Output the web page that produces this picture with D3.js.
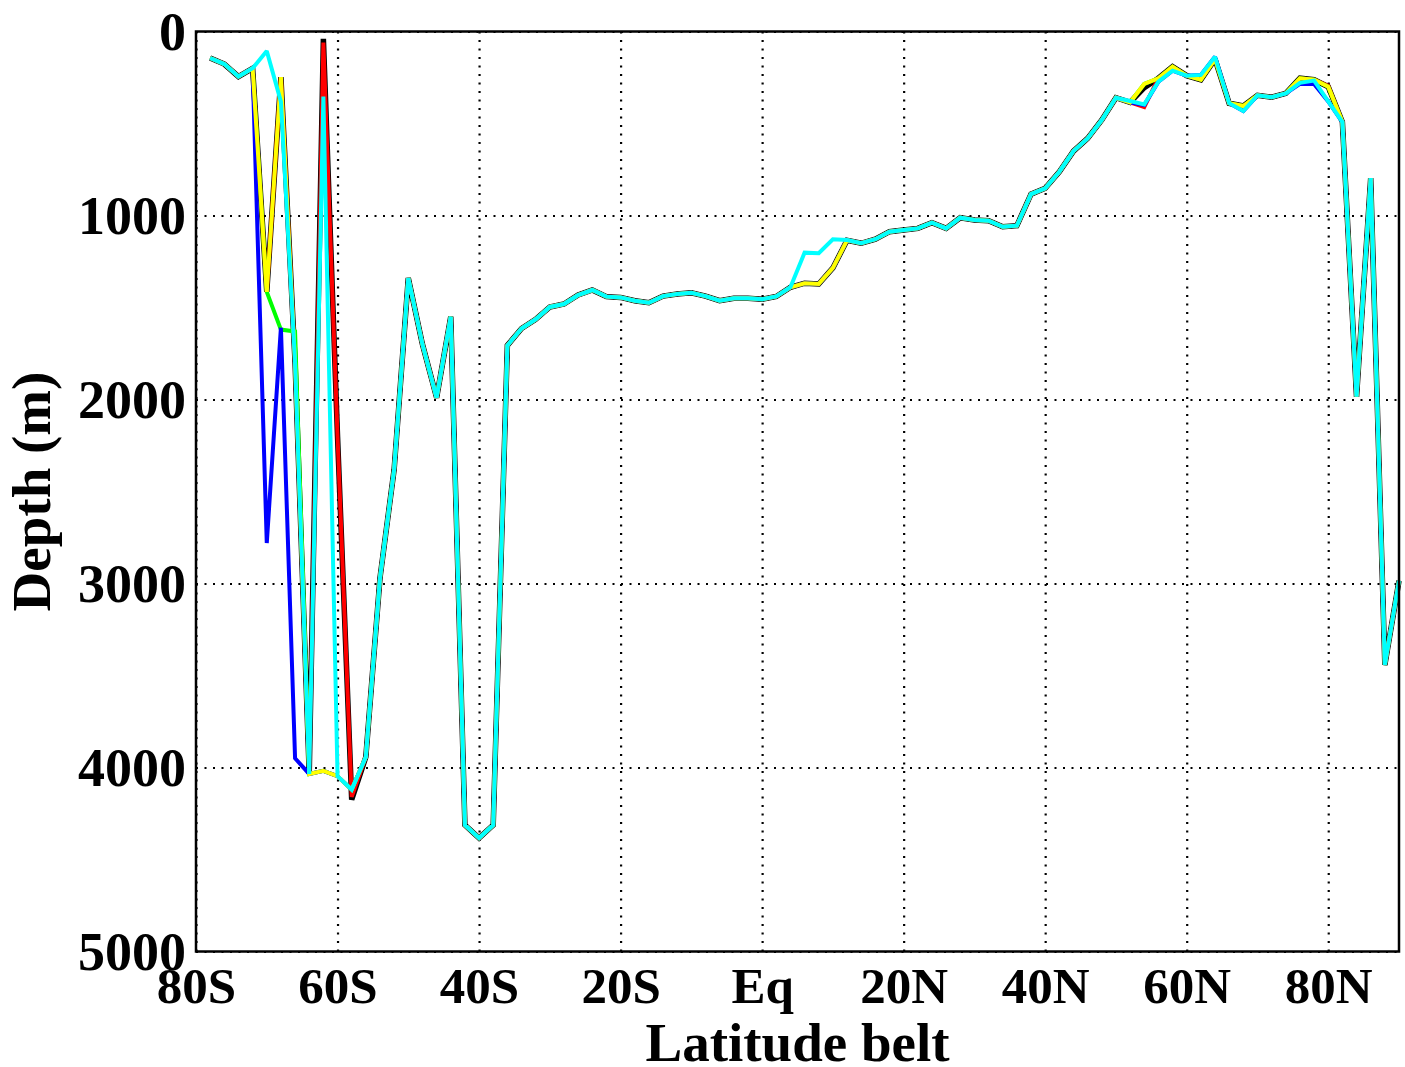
<!DOCTYPE html>
<html><head><meta charset="utf-8">
<script src="https://cdn.jsdelivr.net/npm/d3@7"></script>
<style>
body{margin:0;background:#fff;}
svg{display:block;}
text{font-family:"Liberation Serif","Times New Roman",serif;font-weight:bold;fill:#000;}
</style>
</head><body>
<svg id="chart" width="1405" height="1067"></svg>
<script>
const latitudes = [-78,-76,-74,-72,-70,-68,-66,-64,-62,-60,-58,-56,-54,-52,-50,-48,-46,-44,-42,-40,
  -38,-36,-34,-32,-30,-28,-26,-24,-22,-20,-18,-16,-14,-12,-10,-8,-6,-4,-2,0,
  2,4,6,8,10,12,14,16,18,20,22,24,26,28,30,32,34,36,38,40,
  42,44,46,48,50,52,54,56,58,60,62,64,66,68,70,72,74,76,78,80,82,84,86,88,90];

const depthBlack = [144,177,245,200,1415,248,1800,4035,40,2200,
  4175,3943,2970,2380,1340,1700,1990,1550,4313,4383,
  4313,1706,1614,1564,1497,1481,1432,1405,1441,1445,
  1463,1474,1438,1427,1420,1438,1463,1450,1450,1455,
  1440,1390,1368,1372,1285,1135,1151,1129,1088,1079,
  1070,1039,1070,1012,1024,1028,1061,1055,884,852,
  762,650,581,481,360,385,305,254,191,240,
  262,150,390,405,347,357,336,254,262,300,
  492,1985,797,3443,2985];

const depthRed = [144,177,245,200,1415,248,1800,4035,60,2200,
  4160,3943,2970,2380,1340,1700,1990,1550,4313,4383,
  4313,1706,1614,1564,1497,1481,1432,1405,1441,1445,
  1463,1474,1438,1427,1420,1438,1463,1450,1450,1455,
  1440,1390,1368,1372,1285,1135,1151,1129,1088,1079,
  1070,1039,1070,1012,1024,1028,1061,1055,884,852,
  762,650,581,481,360,385,410,254,191,240,
  262,150,390,405,347,357,336,254,262,295,
  492,1985,797,3443,2985];

const depthGreen = [144,177,245,200,1415,1620,1630,4035,4018,4047,
  4120,3943,2970,2380,1340,1700,1990,1550,4313,4383,
  4313,1706,1614,1564,1497,1481,1432,1405,1441,1445,
  1463,1474,1438,1427,1420,1438,1463,1450,1450,1455,
  1440,1390,1368,1372,1285,1135,1151,1129,1088,1079,
  1070,1039,1070,1012,1024,1028,1061,1055,884,852,
  762,650,581,481,360,385,285,254,191,240,
  262,150,390,405,347,357,336,254,262,300,
  492,1985,797,3443,2985];

const depthBlue = [144,177,245,200,2780,1610,3950,4035,4018,4047,
  4120,3943,2970,2380,1340,1700,1990,1550,4313,4383,
  4313,1706,1614,1564,1497,1481,1432,1405,1441,1445,
  1463,1474,1438,1427,1420,1438,1463,1450,1450,1455,
  1440,1390,1368,1372,1285,1135,1151,1129,1088,1079,
  1070,1039,1070,1012,1024,1028,1061,1055,884,852,
  762,650,581,481,360,385,400,273,213,240,
  236,137,390,432,347,357,336,285,285,380,
  492,1985,797,3443,2985];

const depthYellow = [144,177,245,200,1415,248,1800,4035,4018,4047,
  4120,3943,2970,2380,1340,1700,1990,1550,4313,4383,
  4313,1706,1614,1564,1497,1481,1432,1405,1441,1445,
  1463,1474,1438,1427,1420,1438,1463,1450,1450,1455,
  1440,1390,1368,1372,1285,1135,1151,1129,1088,1079,
  1070,1039,1070,1012,1024,1028,1061,1055,884,852,
  762,650,581,481,360,385,285,254,191,240,
  262,150,390,405,347,357,336,254,262,300,
  492,1985,797,3443,2985];

const depthCyan = [144,177,245,200,106,381,1800,4035,354,4047,
  4120,3943,2970,2380,1340,1700,1990,1550,4313,4383,
  4313,1706,1614,1564,1497,1481,1432,1405,1441,1445,
  1463,1474,1438,1427,1420,1438,1463,1450,1450,1455,
  1440,1390,1202,1205,1129,1133,1151,1129,1088,1079,
  1070,1039,1070,1012,1024,1028,1061,1055,884,852,
  762,650,581,481,360,378,396,273,213,240,
  236,137,390,432,347,357,336,279,267,380,
  492,1985,797,3443,2985];

const seriesNames = ["black","red","green","blue","yellow","cyan"];
const seriesColors = ["#000000","#ff0000","#00ff00","#0000ff","#ffff00","#00ffff"];
const seriesValues = [depthBlack, depthRed, depthGreen, depthBlue, depthYellow, depthCyan];

const xTickValues = [-80,-60,-40,-20,0,20,40,60,80];
const xTickLabels = ["80S","60S","40S","20S","Eq","20N","40N","60N","80N"];
const yTickValues = [0,1000,2000,3000,4000,5000];
const xTitle = "Latitude belt";
const yTitle = "Depth (m)";

(function draw(){
const svg = d3.select("#chart");
const pL = 196, pR = 1399, pT = 31.5, pB = 951.5;
const x = d3.scaleLinear().domain([-80, 90]).range([pL, pR]);
const y = d3.scaleLinear().domain([0, 5000]).range([pT, pB]);

const yAxis = svg.append("g").attr("transform", `translate(${pL},0)`)
  .call(d3.axisLeft(y).tickValues(yTickValues).tickSize(-(pR-pL)).tickPadding(10).tickFormat(d3.format("d")));
yAxis.select(".domain").remove();
yAxis.selectAll(".tick line").attr("stroke","#000").attr("stroke-width",2.2).attr("stroke-dasharray","2,6.5");
yAxis.selectAll(".tick text").attr("font-size",54).attr("font-family","Liberation Serif").attr("font-weight","bold").attr("dy","0.33em");

const xAxis = svg.append("g").attr("transform", `translate(0,${pB})`)
  .call(d3.axisBottom(x).tickValues(xTickValues).tickSize(-(pB-pT)).tickPadding(15)
    .tickFormat((d,i)=>xTickLabels[i]));
xAxis.select(".domain").remove();
xAxis.selectAll(".tick line").attr("stroke","#000").attr("stroke-width",2.2).attr("stroke-dasharray","2,6.5");
xAxis.selectAll(".tick text").attr("font-size",51).attr("font-family","Liberation Serif").attr("font-weight","bold");

const line = d3.line().x((d,i)=>x(latitudes[i])).y(d=>y(d));
seriesValues.forEach((vals, k) => {
  svg.append("path").datum(vals)
    .attr("d", line)
    .attr("fill","none")
    .attr("stroke", seriesColors[k])
    .attr("stroke-width", k===0 ? 5.5 : 4)
    .attr("stroke-linejoin","miter")
    .attr("stroke-miterlimit", 2);
});

svg.append("rect").attr("x", pL).attr("y", pT).attr("width", pR-pL).attr("height", pB-pT)
  .attr("fill","none").attr("stroke","#000").attr("stroke-width",2.5);

svg.append("text").attr("x", (pL+pR)/2).attr("y", 1061).attr("text-anchor","middle")
  .attr("font-size",55).text(xTitle);
svg.append("text").attr("transform", `translate(50,${(pT+pB)/2}) rotate(-90)`).attr("text-anchor","middle")
  .attr("font-size",55).text(yTitle);
})();
</script>
</body></html>
